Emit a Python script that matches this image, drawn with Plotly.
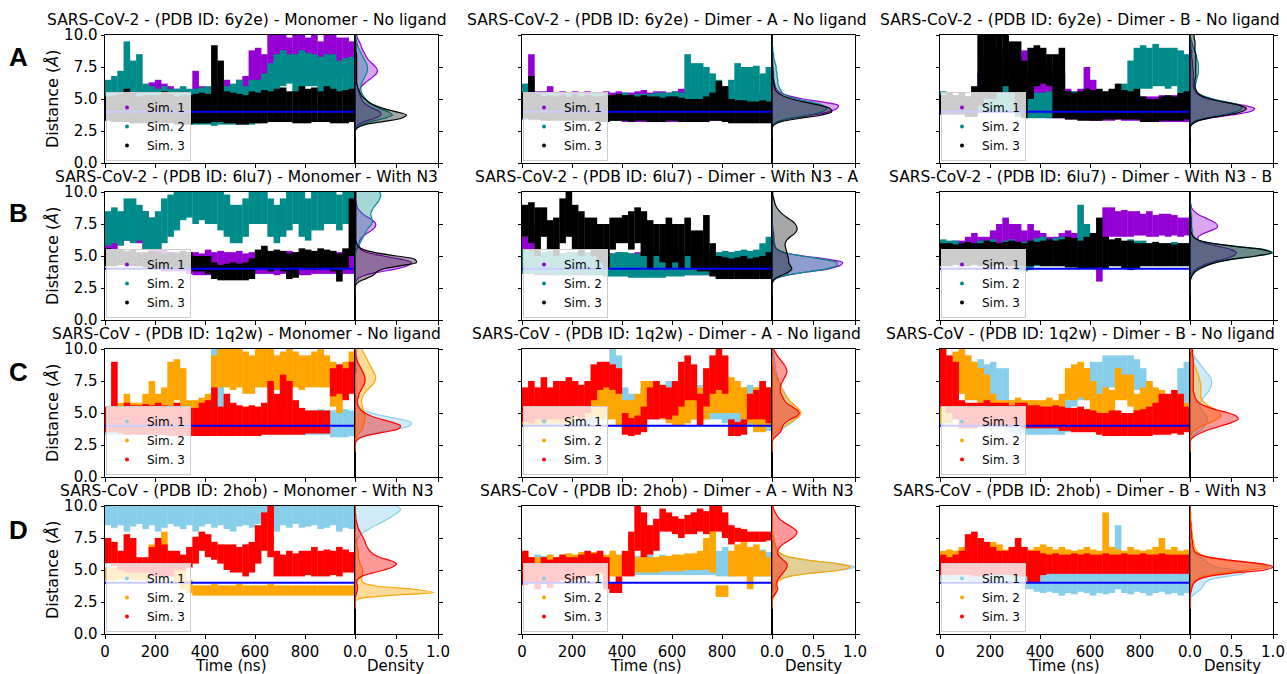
import plotly.graph_objects as go

W, H = 1287, 674

# ---------------- data ----------------
time_ns = [12.5, 37.5, 62.5, 87.5, 112.5, 137.5, 162.5, 187.5, 212.5, 237.5,
           262.5, 287.5, 312.5, 337.5, 362.5, 387.5, 412.5, 437.5, 462.5, 487.5,
           512.5, 537.5, 562.5, 587.5, 612.5, 637.5, 662.5, 687.5, 712.5, 737.5,
           762.5, 787.5, 812.5, 837.5, 862.5, 887.5, 912.5, 937.5, 962.5, 987.5]
time_range = [0, 1000]
threshold = 4.0
density_grid = [2.0, 2.25, 2.5, 2.75, 3.0, 3.25, 3.5, 3.75, 4.0, 4.25, 4.5, 4.75, 5.0, 5.25, 5.5,
                5.75, 6.0, 6.25, 6.5, 6.75, 7.0, 7.25, 7.5, 7.75, 8.0, 8.25, 8.5, 8.75, 9.0, 9.25,
                9.5, 9.75, 10.0]
sim_names = ["Sim. 1", "Sim. 2", "Sim. 3"]
titles = [
    "SARS-CoV-2 - (PDB ID: 6y2e) - Monomer - No ligand",
    "SARS-CoV-2 - (PDB ID: 6y2e) - Dimer - A - No ligand",
    "SARS-CoV-2 - (PDB ID: 6y2e) - Dimer - B - No ligand",
    "SARS-CoV-2 - (PDB ID: 6lu7) - Monomer - With N3",
    "SARS-CoV-2 - (PDB ID: 6lu7) - Dimer - With N3 - A",
    "SARS-CoV-2 - (PDB ID: 6lu7) - Dimer - With N3 - B",
    "SARS-CoV - (PDB ID: 1q2w) - Monomer - No ligand",
    "SARS-CoV - (PDB ID: 1q2w) - Dimer - A - No ligand",
    "SARS-CoV - (PDB ID: 1q2w) - Dimer - B - No ligand",
    "SARS-CoV - (PDB ID: 2hob) - Monomer - With N3",
    "SARS-CoV - (PDB ID: 2hob) - Dimer - A - With N3",
    "SARS-CoV - (PDB ID: 2hob) - Dimer - B - With N3",
]
row_letters = ["A", "B", "C", "D"]
x_ticks = [0, 200, 400, 600, 800]
y_ticks = [0, 2.5, 5, 7.5, 10]
y_ticktext = ["0.0", "2.5", "5.0", "7.5", "10.0"]
d_ticks = [0, 0.5, 1.0]
d_ticktext = ["0.0", "0.5", "1.0"]

# ---- Row A, col 1 ----
a1_s1_lo = [3.6,3.6,3.6,3.6,3.6,3.6,3.7,3.7,3.7,3.7,3.7,3.6,3.6,3.6,3.6,3.6,3.6,3.6,3.7,3.6,3.5,3.5,3.5,4.0,4.0,4.5,6.5,6.5,6.8,6.5,6.3,6.5,6.5,6.8,6.5,6.8,7.0,6.8,7.0,7.0]
a1_s1_hi = [5.2,5.3,5.5,5.6,5.6,5.5,5.8,6.3,6.5,6.2,6.0,5.8,5.7,5.6,7.2,6.0,5.8,6.0,6.3,6.5,6.0,6.5,6.8,8.8,9.0,8.5,10.0,10.0,10.0,9.8,10.0,10.0,9.8,10.0,9.5,10.0,10.0,9.8,9.8,9.5]
a1_s2_lo = [3.8,3.7,3.6,3.5,3.5,3.6,3.5,3.5,3.4,3.4,3.3,3.3,3.2,3.2,3.0,3.0,3.0,2.9,3.0,3.0,3.0,3.0,3.0,3.0,3.1,3.5,4.0,5.5,6.0,6.2,5.5,5.8,6.0,6.0,5.5,5.8,5.5,5.5,5.5,3.2]
a1_s2_hi = [6.5,6.8,7.2,9.5,8.0,8.5,6.2,6.0,5.8,6.0,5.8,5.8,6.0,5.8,5.8,5.9,6.0,5.5,6.0,6.0,6.2,6.5,6.0,6.5,6.5,7.0,7.8,8.5,8.8,8.5,8.5,8.8,8.6,8.5,8.3,8.5,8.5,8.0,8.2,8.3]
a1_s3_lo = [3.3,3.2,3.2,3.2,3.1,3.1,3.1,3.1,3.1,3.1,3.1,3.0,3.0,3.0,3.1,3.1,3.1,3.2,3.2,3.1,3.1,3.0,3.0,3.1,3.1,3.1,3.2,3.2,3.2,3.2,3.1,3.1,3.1,3.2,3.2,3.2,3.1,3.1,3.1,3.2]
a1_s3_hi = [5.2,5.3,5.4,5.8,5.5,5.2,5.3,5.3,5.3,5.6,5.4,5.2,5.3,5.3,5.4,5.5,5.4,9.2,8.0,5.6,5.5,5.4,5.3,5.6,5.5,5.7,5.6,5.8,5.9,5.6,5.6,6.0,5.8,5.9,5.6,6.0,5.8,5.6,5.7,5.8]
a1_s1_den = [0,0,0,0.01,0.04,0.12,0.24,0.31,0.3,0.22,0.15,0.1,0.08,0.06,0.05,0.06,0.08,0.12,0.17,0.22,0.26,0.27,0.25,0.21,0.17,0.14,0.12,0.1,0.08,0.07,0.05,0.03,0.02]
a1_s2_den = [0,0,0,0.02,0.08,0.2,0.36,0.45,0.4,0.3,0.22,0.16,0.13,0.1,0.08,0.07,0.07,0.08,0.1,0.12,0.14,0.15,0.15,0.14,0.12,0.1,0.08,0.06,0.04,0.03,0.02,0.01,0.01]
a1_s3_den = [0,0,0,0.03,0.12,0.35,0.56,0.62,0.5,0.35,0.24,0.17,0.12,0.08,0.06,0.04,0.03,0.02,0.02,0.02,0.02,0.02,0.02,0.02,0.02,0.02,0.02,0.01,0.01,0.01,0,0,0]

# ---- Row A, col 2 ----
a2_s1_lo = [3.4,3.4,3.4,3.4,3.4,3.4,3.4,3.4,3.4,3.4,3.4,3.3,3.3,3.3,3.3,3.3,3.2,3.2,3.2,3.2,3.2,3.2,3.2,3.2,3.2,3.2,3.4,3.4,3.4,3.4,3.3,3.3,3.3,3.3,3.3,3.3,3.3,3.3,3.3,3.3]
a2_s1_hi = [6.0,8.5,5.6,5.6,6.0,5.5,5.6,5.5,5.6,5.5,5.6,5.5,5.5,5.6,5.5,5.6,5.5,5.5,5.6,5.7,5.5,5.6,5.6,5.5,5.6,5.8,5.6,5.5,5.5,5.6,5.5,5.6,5.5,5.5,5.4,5.5,5.4,5.5,5.4,5.5]
a2_s2_lo = [3.4,3.4,3.4,3.4,3.4,3.4,3.4,3.4,3.4,3.4,3.4,3.3,3.3,3.3,3.3,3.3,3.3,3.3,3.4,3.4,3.3,3.3,3.3,3.4,3.3,3.3,4.0,4.2,4.2,4.3,4.0,3.8,3.8,3.8,4.0,4.0,4.0,4.0,4.0,4.0]
a2_s2_hi = [6.2,5.8,5.5,5.4,5.5,5.4,5.3,5.5,5.4,5.5,5.3,5.5,5.4,5.4,5.3,5.4,5.5,5.3,5.4,5.4,5.4,5.5,5.5,5.5,5.6,5.5,8.5,7.8,7.8,7.5,7.0,6.5,6.0,6.5,7.8,7.5,7.5,7.6,7.0,7.5]
a2_s3_lo = [3.5,3.4,3.4,3.3,3.3,3.3,3.3,3.3,3.3,3.3,3.3,3.3,3.2,3.2,3.3,3.3,3.3,3.2,3.3,3.3,3.2,3.2,3.2,3.3,3.3,3.2,3.2,3.2,3.2,3.2,3.3,3.3,3.2,3.1,3.1,3.1,3.1,3.1,3.1,3.1]
a2_s3_hi = [5.5,6.8,5.4,5.2,5.3,5.2,5.3,5.2,5.4,5.2,5.3,5.2,5.2,5.3,5.3,5.4,5.3,5.3,5.2,5.3,5.2,5.2,5.1,5.2,5.2,5.1,5.0,5.0,5.0,5.2,5.5,6.4,6.0,5.0,4.9,4.9,4.8,4.8,4.9,4.8]
a2_s1_den = [0,0,0,0,0.02,0.08,0.25,0.5,0.68,0.78,0.8,0.62,0.38,0.2,0.1,0.06,0.04,0.03,0.02,0.02,0.02,0.01,0.01,0.01,0.01,0.01,0.01,0,0,0,0,0,0]
a2_s2_den = [0,0,0,0,0.02,0.08,0.22,0.45,0.6,0.66,0.62,0.48,0.3,0.18,0.12,0.1,0.08,0.07,0.07,0.06,0.06,0.05,0.05,0.04,0.03,0.02,0.02,0.01,0.01,0,0,0,0]
a2_s3_den = [0,0,0,0,0.03,0.12,0.35,0.6,0.72,0.7,0.58,0.4,0.24,0.13,0.07,0.04,0.03,0.02,0.02,0.01,0.01,0.01,0.01,0,0,0,0,0,0,0,0,0,0]

# ---- Row A, col 3 ----
a3_s1_lo = [3.8,3.8,3.8,3.8,3.8,3.8,4.0,4.5,5.0,5.0,5.0,4.5,4.0,3.8,3.6,3.6,3.6,3.5,3.5,3.5,3.4,3.4,3.4,3.4,3.3,3.3,3.3,3.3,3.4,3.3,3.3,3.3,3.3,3.3,3.2,3.2,3.2,3.2,3.2,3.2]
a3_s1_hi = [5.0,5.0,5.0,5.0,5.2,5.5,7.0,8.5,8.8,9.0,8.5,8.0,7.5,8.8,7.5,6.5,6.5,7.5,7.8,7.0,5.8,5.6,5.8,7.5,6.5,5.5,5.5,5.6,5.5,5.5,5.5,5.4,5.2,5.2,5.2,5.3,5.2,5.3,5.4,5.4]
a3_s2_lo = [4.0,4.0,4.0,4.0,4.0,4.0,4.0,4.0,4.0,4.0,4.0,4.0,3.6,3.6,3.5,3.5,3.5,3.5,3.6,3.6,3.6,3.5,3.5,3.5,3.5,3.5,3.6,3.6,3.6,3.8,4.5,5.5,5.8,5.8,6.0,6.0,5.8,6.0,5.5,5.0]
a3_s2_hi = [5.6,5.4,5.3,5.3,5.2,5.2,5.3,5.3,5.5,5.6,7.0,6.8,5.8,5.6,5.5,5.5,5.5,5.6,5.6,5.5,5.6,5.6,5.5,5.5,5.7,5.6,5.6,5.7,6.0,6.2,8.0,9.0,9.2,9.0,9.3,9.0,9.0,9.0,8.8,8.5]
a3_s3_lo = [3.8,3.8,3.8,3.8,3.6,3.6,4.5,5.0,5.0,5.5,6.0,5.5,4.0,3.5,5.0,6.0,6.2,6.0,3.5,3.5,3.4,3.4,3.3,3.3,3.3,3.3,3.4,3.4,3.4,3.4,3.4,3.4,3.2,3.2,3.2,3.3,3.3,3.3,3.3,3.4]
a3_s3_hi = [5.3,5.5,5.3,5.5,5.2,6.0,10.0,10.0,10.0,10.0,10.0,9.5,9.5,8.0,9.0,9.2,9.0,8.5,8.5,9.0,5.6,5.5,5.6,5.8,5.7,5.8,5.6,5.8,6.2,5.7,5.6,5.8,5.2,5.0,5.0,5.2,5.3,5.2,5.5,5.6]
a3_s1_den = [0,0,0,0,0.02,0.08,0.24,0.5,0.72,0.78,0.65,0.42,0.22,0.12,0.07,0.05,0.04,0.04,0.04,0.04,0.04,0.04,0.03,0.03,0.03,0.02,0.02,0.02,0.01,0.01,0,0,0]
a3_s2_den = [0,0,0,0,0.01,0.05,0.18,0.38,0.55,0.62,0.6,0.45,0.28,0.16,0.09,0.06,0.06,0.07,0.08,0.09,0.1,0.1,0.1,0.1,0.09,0.08,0.07,0.06,0.04,0.03,0.02,0.01,0]
a3_s3_den = [0,0,0,0,0.02,0.08,0.22,0.45,0.62,0.68,0.6,0.42,0.25,0.14,0.09,0.07,0.06,0.06,0.06,0.07,0.07,0.07,0.07,0.07,0.07,0.07,0.07,0.06,0.06,0.06,0.06,0.05,0.05]

# ---- Row B, col 1 ----
b1_s1_lo = [4.5,5.5,6.0,6.2,6.2,6.0,5.5,5.0,4.0,3.8,3.8,3.8,3.8,3.6,3.5,3.5,3.5,3.5,3.5,3.5,3.6,3.6,3.6,3.6,3.6,3.6,3.6,3.5,3.6,3.6,3.6,3.5,3.5,3.6,3.6,3.6,3.6,3.6,3.6,3.6]
b1_s1_hi = [7.5,8.0,8.3,8.5,8.5,8.5,8.5,8.0,6.5,5.5,5.3,5.3,5.2,5.3,5.3,5.2,5.5,5.3,5.4,5.3,5.3,5.4,5.2,5.3,5.3,5.5,5.2,5.3,5.2,5.4,5.3,5.3,5.2,5.3,5.3,5.3,5.4,5.3,5.5,5.6]
b1_s2_lo = [5.8,6.0,5.8,6.2,6.0,6.2,5.5,5.0,5.5,6.0,6.5,7.0,7.8,8.0,7.5,7.8,7.5,7.5,7.0,6.5,6.0,6.0,6.5,7.5,7.5,7.5,6.5,6.0,6.5,7.0,7.5,6.5,6.2,7.0,7.0,7.5,7.5,7.0,7.5,7.5]
b1_s2_hi = [8.5,8.8,8.5,9.5,9.5,9.0,8.5,8.0,8.5,9.5,9.8,10.0,10.0,10.0,10.0,10.0,10.0,10.0,10.0,9.8,9.0,9.0,9.5,10.0,10.0,10.0,9.5,9.0,9.5,10.0,10.0,10.0,9.5,10.0,10.0,10.0,10.0,9.8,10.0,10.0]
b1_s3_lo = [4.2,4.2,4.3,4.2,4.2,4.2,4.1,4.1,4.1,4.1,4.1,4.0,4.0,4.0,3.8,3.8,3.6,3.2,3.1,3.1,3.1,3.1,3.1,3.2,4.0,4.0,3.8,4.0,3.8,3.2,3.3,4.0,4.0,3.9,4.0,4.0,3.8,3.0,4.0,5.0]
b1_s3_hi = [5.6,5.5,5.5,5.4,5.5,5.3,5.3,5.4,5.3,5.2,5.3,5.2,5.4,5.3,5.0,5.0,5.0,4.5,4.3,4.4,4.5,4.4,4.5,4.8,5.5,5.8,5.4,5.5,5.4,5.2,5.3,5.6,5.5,5.4,5.6,5.5,5.4,5.2,5.6,9.5]
b1_s1_den = [0,0,0,0,0.01,0.04,0.12,0.3,0.5,0.64,0.68,0.55,0.34,0.16,0.07,0.05,0.05,0.06,0.09,0.14,0.2,0.24,0.25,0.22,0.16,0.1,0.06,0.03,0.02,0.01,0,0,0]
b1_s2_den = [0,0,0,0,0,0,0,0,0,0,0,0,0,0.01,0.02,0.04,0.06,0.08,0.1,0.12,0.14,0.17,0.2,0.21,0.2,0.19,0.2,0.22,0.25,0.28,0.3,0.31,0.3]
b1_s3_den = [0,0,0,0.01,0.05,0.14,0.22,0.26,0.35,0.55,0.74,0.72,0.5,0.26,0.1,0.04,0.02,0.01,0.01,0.01,0.01,0.01,0.01,0.01,0.01,0.01,0.01,0.01,0.01,0.01,0.01,0.01,0.01]

# ---- Row B, col 2 ----
b2_s1_lo = [3.8,4.0,3.5,3.5,3.5,3.5,3.5,3.5,3.5,3.5,3.5,3.5,3.5,3.5,3.5,3.5,3.5,3.5,3.5,3.5,3.5,3.5,3.5,3.5,3.5,3.5,3.5,3.5,3.5,3.5,3.5,3.5,3.5,3.5,3.5,3.5,3.5,3.5,3.5,3.5]
b2_s1_hi = [6.5,7.5,5.2,5.2,5.3,5.2,5.2,5.3,5.2,5.3,5.2,5.2,5.3,5.2,5.2,5.3,5.2,5.2,5.3,5.2,5.2,5.3,5.2,5.2,5.3,5.2,5.2,5.3,5.2,5.2,5.3,5.2,5.2,5.3,5.2,5.2,5.3,5.2,5.5,5.8]
b2_s2_lo = [3.6,3.6,3.6,3.6,3.6,3.5,3.5,3.5,3.6,3.6,3.5,3.5,3.5,3.4,3.4,3.4,3.4,3.3,3.3,3.3,3.3,3.3,3.3,3.4,3.4,3.4,3.5,3.5,3.5,3.5,3.6,3.6,3.6,3.6,3.6,3.6,3.6,3.6,3.6,3.6]
b2_s2_hi = [5.5,5.4,5.3,5.3,5.4,5.3,5.2,5.3,5.3,5.2,5.3,5.2,5.3,5.4,5.2,5.3,5.3,5.2,5.2,5.3,5.2,5.2,5.3,5.3,5.2,5.3,5.3,5.4,5.4,5.3,5.4,5.3,5.4,5.3,5.4,5.5,5.4,5.5,6.0,6.5]
b2_s3_lo = [6.5,6.0,5.0,6.5,5.5,5.0,6.0,6.5,5.5,5.0,5.5,5.0,4.5,4.0,5.5,6.0,6.0,5.5,6.0,5.0,4.0,5.0,4.5,4.0,4.5,4.0,5.0,4.0,3.8,3.8,3.4,3.2,3.2,3.2,3.2,3.2,3.2,3.2,3.2,3.2]
b2_s3_hi = [9.0,9.2,8.8,8.8,7.8,8.0,9.5,10.0,9.0,8.5,8.0,8.0,7.5,7.5,8.0,8.0,8.2,8.5,8.8,8.5,7.8,7.5,7.5,8.0,7.5,7.5,8.0,7.0,7.0,8.2,6.0,5.0,4.9,4.8,4.9,5.0,4.8,4.9,5.0,5.3]
b2_s1_den = [0,0,0,0,0.01,0.05,0.18,0.42,0.68,0.82,0.85,0.66,0.38,0.16,0.06,0.03,0.02,0.02,0.02,0.02,0.01,0.01,0,0,0,0,0,0,0,0,0,0,0]
b2_s2_den = [0,0,0,0,0.01,0.05,0.18,0.42,0.66,0.78,0.78,0.6,0.36,0.16,0.07,0.04,0.03,0.02,0.02,0.01,0.01,0,0,0,0,0,0,0,0,0,0,0,0]
b2_s3_den = [0,0,0,0,0.01,0.04,0.12,0.2,0.24,0.22,0.2,0.2,0.19,0.18,0.17,0.16,0.16,0.18,0.22,0.27,0.3,0.3,0.28,0.24,0.18,0.13,0.09,0.06,0.04,0.03,0.02,0.01,0.01]

# ---- Row B, col 3 ----
b3_s1_lo = [4.5,4.5,4.5,4.5,4.5,4.5,4.5,4.5,4.5,4.5,4.5,4.5,4.5,4.5,4.5,4.5,4.5,4.5,4.5,4.5,4.5,4.5,4.5,4.5,4.5,3.0,6.2,6.5,6.5,6.5,6.5,6.6,6.6,6.5,6.5,6.6,6.5,6.6,6.5,6.6]
b3_s1_hi = [6.0,6.0,6.2,6.2,6.5,6.8,6.5,6.5,7.0,7.5,8.0,7.5,7.5,7.0,7.5,7.0,6.8,6.5,6.5,6.8,7.0,6.8,6.5,6.5,6.8,6.5,8.8,8.8,8.5,8.6,8.5,8.5,8.3,8.5,8.2,8.3,8.3,8.2,8.0,8.0]
b3_s2_lo = [4.3,4.3,4.4,4.3,4.3,4.3,4.4,4.3,4.3,4.3,4.3,4.2,3.8,3.8,3.9,4.2,4.3,4.3,4.3,4.3,4.3,4.2,4.2,4.3,4.3,4.3,4.4,4.4,4.3,4.4,4.4,4.3,4.4,4.4,4.4,4.3,4.4,4.4,4.4,4.4]
b3_s2_hi = [6.3,6.2,6.2,6.0,6.1,6.0,6.2,6.2,6.3,6.0,6.2,6.3,6.0,6.1,6.2,6.4,6.5,6.3,6.4,6.5,6.3,6.4,9.0,7.5,6.5,6.4,6.3,6.2,6.2,6.1,6.3,6.2,6.2,6.0,6.1,6.0,6.0,6.1,6.0,6.0]
b3_s3_lo = [4.2,4.2,4.3,4.2,4.2,4.3,4.2,4.2,4.2,4.3,4.2,4.2,4.2,4.2,4.2,4.3,4.2,4.2,4.2,4.2,4.1,4.1,4.0,4.0,4.0,4.1,4.0,4.2,4.2,4.0,3.9,4.0,4.2,4.2,4.2,4.2,4.2,4.2,4.2,4.2]
b3_s3_hi = [6.0,6.0,5.9,6.0,6.1,6.0,6.0,6.2,6.1,6.0,6.1,6.2,6.1,6.0,6.2,6.1,6.2,6.3,6.2,6.3,6.5,6.4,6.2,6.5,6.8,8.0,6.5,6.3,6.4,6.2,6.2,6.0,6.0,6.0,6.1,6.0,6.0,5.9,6.0,6.0]
b3_s1_den = [0,0,0,0,0,0.01,0.02,0.04,0.08,0.15,0.26,0.4,0.52,0.56,0.5,0.34,0.18,0.1,0.1,0.16,0.26,0.33,0.32,0.26,0.18,0.1,0.05,0.02,0.01,0,0,0,0]
b3_s2_den = [0,0,0,0,0,0.01,0.02,0.05,0.1,0.18,0.3,0.5,0.8,1.0,0.9,0.55,0.25,0.1,0.05,0.03,0.03,0.02,0.02,0.02,0.02,0.02,0.01,0.01,0.01,0,0,0,0]
b3_s3_den = [0,0,0,0,0,0.01,0.03,0.06,0.12,0.2,0.32,0.52,0.8,0.98,0.88,0.55,0.25,0.1,0.04,0.02,0.01,0.01,0.01,0.01,0.01,0,0,0,0,0,0,0,0]

# ---- Row C, col 1 ----
c1_s1_lo = [3.3,3.3,3.3,3.3,3.3,3.3,3.3,3.3,3.3,3.3,3.3,3.3,3.3,3.3,3.3,3.3,3.3,3.5,3.5,3.3,3.3,3.3,3.3,3.3,3.3,3.3,3.3,3.3,3.3,3.3,3.3,3.3,3.3,3.3,3.3,3.3,3.1,3.1,3.1,3.2]
c1_s1_hi = [5.2,5.2,5.3,5.2,5.2,5.3,5.2,5.2,5.3,5.2,5.2,5.3,5.2,5.2,5.3,5.2,5.2,10.0,10.0,5.3,5.2,5.2,5.3,5.2,5.2,5.3,5.2,5.2,5.3,5.2,5.2,5.3,5.2,5.2,5.3,5.2,5.2,5.4,5.3,5.2]
c1_s2_lo = [3.8,3.8,3.8,3.8,3.8,3.8,4.0,4.0,4.0,4.5,5.5,6.0,5.0,4.0,4.0,4.0,4.0,6.5,7.0,7.0,6.8,7.0,6.5,6.5,7.0,7.0,7.0,6.8,7.0,7.0,7.0,6.8,7.0,7.0,7.0,7.0,5.5,5.0,6.5,7.0]
c1_s2_hi = [5.5,5.6,5.8,6.5,5.8,5.8,6.5,7.5,6.5,7.0,9.0,9.2,8.5,6.0,6.0,6.2,6.5,9.5,10.0,10.0,10.0,10.0,9.8,9.5,10.0,10.0,10.0,9.5,9.8,10.0,9.8,9.5,9.5,9.8,10.0,9.5,9.0,8.0,9.0,9.8]
c1_s3_lo = [3.5,3.5,3.4,3.3,3.3,3.3,3.3,3.3,3.3,3.3,3.2,3.2,3.2,3.2,3.2,3.2,3.2,3.2,3.2,3.2,3.2,3.2,3.2,3.2,3.2,3.3,3.3,3.3,3.3,3.3,3.3,3.3,3.4,3.4,3.4,3.4,6.3,6.5,6.0,6.5]
c1_s3_hi = [5.5,9.0,5.5,5.8,5.6,5.6,5.7,5.6,5.8,5.6,5.5,5.8,5.5,5.4,5.4,5.8,6.0,7.0,5.5,6.5,5.8,5.6,5.5,5.6,5.5,5.8,7.5,6.5,8.0,7.5,6.0,5.4,5.2,5.2,5.2,5.2,8.5,8.8,8.5,9.0]
c1_s1_den = [0,0,0,0.01,0.04,0.12,0.3,0.52,0.66,0.68,0.55,0.36,0.2,0.1,0.05,0.03,0.02,0.02,0.01,0.01,0.01,0.01,0.01,0.01,0.01,0.02,0.02,0.02,0.02,0.02,0.02,0.02,0.02]
c1_s2_den = [0,0,0,0,0.01,0.03,0.06,0.09,0.1,0.11,0.12,0.12,0.11,0.1,0.09,0.08,0.08,0.09,0.11,0.14,0.18,0.22,0.24,0.25,0.24,0.22,0.2,0.18,0.16,0.14,0.12,0.1,0.08]
c1_s3_den = [0,0,0,0.01,0.05,0.15,0.35,0.52,0.55,0.46,0.32,0.2,0.12,0.07,0.04,0.03,0.03,0.04,0.05,0.07,0.09,0.11,0.12,0.12,0.11,0.09,0.07,0.05,0.03,0.02,0.01,0.01,0]

# ---- Row C, col 2 ----
c2_s1_lo = [4.0,4.0,4.0,4.0,4.0,4.0,4.0,4.2,4.2,4.0,4.0,4.2,4.5,4.5,5.0,4.5,3.5,3.5,3.6,4.0,4.5,4.5,4.5,4.5,4.5,4.5,4.5,4.5,4.5,4.5,4.5,4.5,4.2,4.2,4.0,4.0,4.0,3.8,3.6,3.6]
c2_s1_hi = [6.0,6.2,6.0,6.5,6.5,6.5,6.5,7.0,7.0,6.8,6.5,7.5,8.0,9.0,10.0,9.5,7.0,6.5,6.5,7.0,7.5,7.5,7.2,7.5,7.2,7.5,7.0,7.0,7.2,7.0,7.2,7.0,7.0,6.8,6.5,7.0,7.2,7.0,6.5,6.0]
c2_s2_lo = [4.0,4.0,4.0,4.0,4.2,4.2,4.2,4.2,4.5,4.5,4.5,4.8,4.5,4.5,4.5,4.0,3.8,3.6,3.8,4.5,5.0,4.8,4.5,4.2,4.0,4.0,4.2,4.5,4.5,4.5,5.0,5.0,5.0,5.0,5.0,4.5,4.2,3.5,3.5,4.0]
c2_s2_hi = [6.0,6.2,6.3,6.5,6.5,6.8,6.8,7.0,7.2,7.0,6.8,7.8,7.5,7.5,7.2,6.5,6.0,6.0,6.5,7.5,7.5,7.5,7.0,6.8,6.5,6.5,7.0,7.0,7.0,7.2,8.0,8.0,8.0,7.8,7.5,7.0,6.5,7.0,7.5,7.0]
c2_s3_lo = [4.3,4.2,4.5,4.3,4.5,4.5,4.5,4.5,4.8,4.5,5.0,6.0,6.8,7.0,6.8,6.5,3.3,3.2,3.3,3.5,4.5,4.5,4.6,4.5,4.8,5.5,6.0,6.0,4.0,5.5,6.5,6.8,6.5,3.2,3.2,3.3,4.5,4.5,4.5,4.2]
c2_s3_hi = [7.0,7.5,7.0,7.8,7.0,7.5,7.5,7.8,7.5,7.2,7.5,8.8,9.0,9.0,8.8,8.5,5.0,4.6,4.8,5.5,7.0,7.5,7.2,7.0,7.5,9.0,9.5,8.8,6.5,8.5,9.5,10.0,9.5,4.5,4.3,4.5,6.5,6.8,7.5,7.0]
c2_s1_den = [0,0,0,0,0.01,0.03,0.07,0.12,0.18,0.24,0.28,0.3,0.3,0.28,0.25,0.22,0.2,0.18,0.16,0.14,0.12,0.1,0.08,0.07,0.06,0.05,0.04,0.04,0.03,0.03,0.02,0.02,0.02]
c2_s2_den = [0,0,0,0,0,0.01,0.04,0.09,0.15,0.22,0.28,0.33,0.35,0.33,0.29,0.25,0.21,0.18,0.15,0.13,0.11,0.1,0.08,0.06,0.04,0.03,0.02,0.01,0.01,0,0,0,0]
c2_s3_den = [0,0,0,0,0.02,0.06,0.1,0.12,0.13,0.16,0.22,0.3,0.33,0.3,0.24,0.18,0.15,0.13,0.11,0.1,0.1,0.11,0.13,0.15,0.17,0.18,0.17,0.15,0.12,0.09,0.06,0.04,0.02]

# ---- Row C, col 3 ----
c3_s1_lo = [4.0,4.5,6.0,6.5,6.5,6.0,6.5,6.0,6.0,6.0,5.5,3.5,3.3,3.3,3.3,3.3,3.3,3.3,3.3,3.3,3.5,5.5,6.0,6.0,6.0,6.5,6.8,7.0,7.0,7.0,7.0,6.8,6.0,5.0,4.0,3.5,3.5,3.5,3.5,3.5]
c3_s1_hi = [6.0,7.5,9.0,9.5,9.5,9.0,9.2,8.8,9.0,8.5,8.5,6.0,5.5,5.5,5.5,5.3,5.3,5.3,5.4,5.5,6.0,8.5,8.5,8.5,9.0,9.0,9.5,9.5,9.5,9.5,9.5,9.2,8.5,7.5,6.5,5.5,5.5,5.8,8.5,9.0]
c3_s2_lo = [4.2,4.2,6.5,6.5,6.0,6.0,5.5,5.0,4.5,4.2,4.2,4.2,4.2,4.2,4.2,4.2,4.0,4.0,4.0,4.5,6.0,6.0,6.2,6.0,5.0,4.5,4.5,4.5,6.0,6.0,5.5,4.5,5.0,5.5,5.5,5.0,4.0,4.0,4.0,4.0]
c3_s2_hi = [6.0,8.0,9.8,10.0,9.5,9.0,8.5,8.0,6.5,6.0,6.0,6.0,6.2,6.0,6.0,6.0,6.0,6.2,6.0,6.5,8.5,8.8,9.0,8.5,7.5,6.5,7.0,6.8,8.5,8.0,8.0,6.5,7.0,7.5,7.0,6.8,6.0,6.0,6.2,5.8]
c3_s3_lo = [5.5,5.0,4.5,3.8,3.8,3.8,4.0,4.0,4.0,4.0,4.0,4.0,4.0,3.8,3.8,3.8,3.8,3.8,3.8,3.6,3.6,3.5,3.5,3.5,3.5,3.3,3.2,3.2,3.2,3.2,3.2,3.2,3.2,3.2,3.3,3.3,3.3,3.4,3.3,3.5]
c3_s3_hi = [10.0,9.5,9.0,6.0,5.8,5.8,5.8,6.0,5.8,5.8,5.8,5.6,5.8,5.8,5.6,5.6,5.5,5.5,5.6,5.5,5.4,5.4,5.5,5.3,5.2,5.0,5.0,5.2,5.2,5.0,5.0,5.2,5.3,5.5,5.8,6.5,6.5,6.8,6.5,5.5]
c3_s1_den = [0,0,0,0,0.01,0.04,0.1,0.15,0.18,0.2,0.21,0.2,0.17,0.14,0.12,0.12,0.14,0.17,0.2,0.23,0.25,0.26,0.26,0.25,0.22,0.19,0.16,0.13,0.1,0.07,0.05,0.03,0.02]
c3_s2_den = [0,0,0,0,0,0.01,0.03,0.08,0.15,0.24,0.32,0.37,0.36,0.3,0.24,0.18,0.15,0.13,0.13,0.13,0.13,0.13,0.12,0.11,0.1,0.08,0.07,0.05,0.04,0.03,0.02,0.02,0.01]
c3_s3_den = [0,0,0,0,0.02,0.07,0.15,0.25,0.38,0.5,0.58,0.56,0.46,0.32,0.2,0.12,0.08,0.06,0.05,0.04,0.04,0.04,0.04,0.04,0.04,0.04,0.04,0.04,0.04,0.04,0.03,0.03,0.03]

# ---- Row D, col 1 ----
d1_s1_lo = [8.5,8.3,8.5,8.0,8.4,8.6,8.2,8.5,8.0,8.3,8.6,8.4,8.2,8.5,8.0,8.4,8.6,8.3,8.5,8.2,8.0,8.4,8.5,8.3,8.6,8.2,8.4,8.0,8.5,8.3,8.6,8.3,8.4,8.5,8.2,8.3,8.5,8.0,8.3,8.2]
d1_s1_hi = [10.0,10.0,10.0,10.0,10.0,10.0,10.0,10.0,10.0,10.0,10.0,10.0,10.0,10.0,10.0,10.0,10.0,10.0,10.0,10.0,10.0,10.0,10.0,10.0,10.0,10.0,10.0,10.0,10.0,10.0,10.0,10.0,10.0,10.0,10.0,10.0,10.0,10.0,10.0,10.0]
d1_s2_lo = [4.2,4.2,4.3,4.3,4.2,4.2,4.2,4.5,4.5,5.0,4.5,4.0,3.5,3.2,3.0,3.0,3.0,3.0,3.0,3.0,3.0,3.0,3.0,3.0,3.0,3.0,3.0,3.0,3.0,3.0,3.0,3.0,3.0,3.0,3.0,3.0,3.0,3.0,3.0,3.0]
d1_s2_hi = [5.2,5.2,5.2,5.3,5.3,5.3,5.5,7.0,7.5,8.0,6.5,5.2,5.0,4.2,3.8,3.8,3.8,3.9,3.8,3.8,3.8,3.9,3.8,3.8,3.8,3.8,3.9,3.8,3.8,3.8,3.8,3.8,3.8,3.8,3.8,3.8,3.8,3.8,3.8,3.8]
d1_s3_lo = [5.5,5.3,5.0,4.8,4.8,4.8,4.8,4.5,4.5,4.5,4.5,5.0,5.0,5.2,5.5,6.5,6.0,5.8,5.5,5.0,4.8,4.8,4.5,4.8,5.5,6.5,6.0,4.5,4.5,4.5,4.5,4.5,4.6,4.5,4.5,4.5,4.6,4.5,4.8,4.8]
d1_s3_hi = [7.5,7.2,6.5,7.8,7.5,6.0,6.0,6.8,7.5,7.0,6.5,6.5,6.2,6.8,7.6,8.0,7.8,7.2,7.0,7.0,7.0,6.8,7.0,7.2,8.5,9.5,10.0,6.5,6.2,6.5,6.3,6.5,6.5,6.8,6.5,6.6,6.5,6.8,6.6,6.4]
d1_s1_den = [0,0,0,0,0,0,0,0,0,0,0,0,0,0,0,0,0,0,0,0,0.01,0.02,0.04,0.07,0.12,0.18,0.25,0.33,0.4,0.46,0.52,0.55,0.5]
d1_s2_den = [0,0,0,0.05,0.4,0.95,0.7,0.25,0.1,0.08,0.08,0.09,0.09,0.08,0.06,0.05,0.04,0.04,0.04,0.03,0.02,0.02,0.01,0.01,0,0,0,0,0,0,0,0,0]
d1_s3_den = [0,0,0,0,0.01,0.02,0.03,0.03,0.02,0.03,0.08,0.2,0.35,0.46,0.5,0.42,0.3,0.22,0.18,0.15,0.13,0.12,0.1,0.08,0.06,0.04,0.03,0.02,0.01,0.01,0,0,0]

# ---- Row D, col 2 ----
d2_s1_lo = [4.6,4.6,4.6,4.6,4.6,4.6,4.6,4.6,4.6,4.6,4.6,4.6,4.6,4.6,4.6,4.6,4.6,4.6,4.6,4.6,4.6,4.6,4.6,4.6,4.6,4.6,4.6,4.6,4.6,4.6,4.6,4.5,4.5,4.5,4.6,4.6,4.5,4.5,4.5,4.5]
d2_s1_hi = [6.2,6.0,6.2,6.1,6.2,6.0,6.2,6.3,6.2,6.1,6.2,6.0,6.2,6.1,6.3,6.2,6.0,6.2,6.1,6.2,6.2,6.0,6.2,6.1,6.2,6.0,6.2,6.1,6.2,6.2,6.5,6.5,6.8,6.5,6.2,6.2,6.5,6.5,6.6,6.4]
d2_s2_lo = [4.5,4.5,4.5,4.5,4.5,4.5,4.6,4.5,4.6,4.6,4.6,4.6,4.6,4.5,4.5,4.5,4.7,4.8,4.8,4.8,4.8,4.8,4.9,4.9,4.9,4.9,5.0,5.0,5.0,5.0,4.8,2.9,2.9,4.5,4.5,4.5,3.5,4.5,4.5,4.5]
d2_s2_hi = [6.5,6.0,6.0,6.0,6.2,6.0,6.2,6.3,6.2,6.4,6.2,6.4,6.2,6.2,6.5,6.2,6.0,6.0,6.0,6.1,6.0,6.0,6.1,6.1,6.2,6.2,6.3,6.3,6.5,7.5,8.0,3.8,3.8,6.5,7.0,7.2,6.8,7.0,6.5,6.0]
d2_s3_lo = [3.8,4.0,3.5,4.0,3.6,4.0,4.2,4.2,4.2,4.3,4.5,4.5,4.8,3.5,3.2,3.2,4.5,4.5,6.5,6.0,6.2,6.5,8.0,8.0,7.8,7.5,7.8,7.8,8.0,7.8,8.0,8.0,7.5,7.0,7.2,7.2,7.2,7.2,7.2,7.3]
d2_s3_hi = [6.5,6.0,5.5,6.0,5.8,6.0,6.2,6.0,6.0,6.2,6.5,6.3,6.5,6.0,4.0,4.5,6.5,8.0,10.0,9.5,8.5,9.0,9.8,9.5,9.2,9.0,9.3,9.5,9.8,9.6,10.0,10.0,9.5,8.5,8.3,8.2,8.0,8.0,8.0,8.0]
d2_s1_den = [0,0,0,0,0,0.01,0.02,0.03,0.05,0.1,0.2,0.45,0.85,1.0,0.8,0.45,0.2,0.1,0.06,0.04,0.03,0.02,0.01,0.01,0,0,0,0,0,0,0,0,0]
d2_s2_den = [0,0,0,0.01,0.03,0.05,0.05,0.04,0.05,0.1,0.22,0.48,0.82,0.95,0.78,0.45,0.22,0.12,0.07,0.05,0.04,0.03,0.02,0.01,0.01,0,0,0,0,0,0,0,0]
d2_s3_den = [0,0,0,0,0.02,0.05,0.07,0.06,0.06,0.07,0.1,0.13,0.16,0.18,0.18,0.14,0.1,0.07,0.07,0.09,0.13,0.19,0.25,0.29,0.3,0.26,0.2,0.14,0.09,0.06,0.04,0.02,0.01]

# ---- Row D, col 3 ----
d3_s1_lo = [4.2,4.2,4.2,4.2,4.1,4.1,4.1,4.1,4.0,4.0,4.0,4.0,4.0,3.5,3.5,3.3,3.2,3.3,3.2,3.0,3.2,3.1,3.3,3.2,3.0,3.2,3.1,3.2,3.5,3.2,3.1,3.3,3.2,3.0,3.2,3.3,3.1,3.2,3.0,3.2]
d3_s1_hi = [5.8,5.8,5.8,5.7,5.8,5.8,5.7,5.8,5.8,5.7,5.8,5.8,5.7,5.6,5.5,5.5,5.5,5.4,5.5,5.5,5.4,5.5,5.5,5.4,5.5,5.5,5.4,5.5,8.5,5.5,5.4,5.5,5.5,5.4,5.5,5.5,5.4,5.5,5.5,5.4]
d3_s2_lo = [4.8,4.8,4.8,4.8,4.8,4.8,4.8,4.8,4.8,4.8,4.8,4.8,4.8,4.8,4.8,4.8,4.8,4.8,4.8,4.8,4.8,4.8,4.8,4.8,4.8,4.8,4.8,4.8,4.8,4.8,4.8,4.8,4.8,4.8,4.8,4.8,4.8,4.8,4.8,4.8]
d3_s2_hi = [6.5,6.6,6.5,6.8,6.6,6.5,6.8,6.6,7.2,7.0,6.6,6.8,7.0,6.8,6.6,6.8,7.0,6.8,6.6,6.8,6.6,6.5,6.6,6.8,6.6,6.5,9.5,6.8,6.6,6.5,6.8,6.6,6.5,6.6,6.8,7.5,6.6,6.8,6.5,6.6]
d3_s3_lo = [4.6,4.6,4.6,4.6,4.6,4.5,4.5,4.6,4.6,4.6,4.6,4.6,4.5,4.5,4.0,4.0,4.6,4.7,4.7,4.7,4.7,4.7,4.7,4.7,4.7,4.7,4.7,4.7,4.7,4.7,4.7,4.7,4.7,4.7,4.7,4.7,4.7,4.7,4.7,4.7]
d3_s3_hi = [6.2,6.0,6.2,6.5,7.8,8.0,7.5,7.2,6.8,6.5,6.5,6.8,7.5,6.8,6.5,6.5,6.3,6.2,6.3,6.2,6.2,6.3,6.2,6.3,6.2,6.2,6.3,6.2,6.2,6.3,6.2,6.2,6.3,6.2,6.2,6.3,6.2,6.2,6.2,6.2]
d3_s1_den = [0,0,0,0,0.03,0.08,0.13,0.16,0.18,0.25,0.45,0.66,0.55,0.3,0.22,0.18,0.12,0.07,0.04,0.03,0.02,0.01,0.01,0.01,0.01,0,0,0,0,0,0,0,0]
d3_s2_den = [0,0,0,0,0,0,0.01,0.02,0.04,0.08,0.16,0.35,0.7,0.95,0.8,0.45,0.22,0.12,0.08,0.06,0.05,0.04,0.03,0.03,0.02,0.02,0.02,0.01,0.01,0.01,0.01,0,0]
d3_s3_den = [0,0,0,0,0,0.01,0.02,0.03,0.05,0.1,0.22,0.5,0.9,1.0,0.85,0.5,0.22,0.1,0.05,0.04,0.03,0.03,0.02,0.02,0.02,0.01,0.01,0.01,0,0,0,0,0]

# ---------------- styling ----------------
colors_cov2 = ["#9400d3", "#008b8b", "#000000"]
fills_cov2 = ["rgba(148,0,211,0.35)", "rgba(0,139,139,0.35)", "rgba(0,0,0,0.35)"]
colors_cov = ["#87ceeb", "#ffa500", "#ff0000"]
fills_cov = ["rgba(135,206,235,0.4)", "rgba(255,165,0,0.4)", "rgba(255,0,0,0.4)"]

panels = [
    [(a1_s1_lo, a1_s1_hi, a1_s1_den), (a1_s2_lo, a1_s2_hi, a1_s2_den), (a1_s3_lo, a1_s3_hi, a1_s3_den)],
    [(a2_s1_lo, a2_s1_hi, a2_s1_den), (a2_s2_lo, a2_s2_hi, a2_s2_den), (a2_s3_lo, a2_s3_hi, a2_s3_den)],
    [(a3_s1_lo, a3_s1_hi, a3_s1_den), (a3_s2_lo, a3_s2_hi, a3_s2_den), (a3_s3_lo, a3_s3_hi, a3_s3_den)],
    [(b1_s1_lo, b1_s1_hi, b1_s1_den), (b1_s2_lo, b1_s2_hi, b1_s2_den), (b1_s3_lo, b1_s3_hi, b1_s3_den)],
    [(b2_s1_lo, b2_s1_hi, b2_s1_den), (b2_s2_lo, b2_s2_hi, b2_s2_den), (b2_s3_lo, b2_s3_hi, b2_s3_den)],
    [(b3_s1_lo, b3_s1_hi, b3_s1_den), (b3_s2_lo, b3_s2_hi, b3_s2_den), (b3_s3_lo, b3_s3_hi, b3_s3_den)],
    [(c1_s1_lo, c1_s1_hi, c1_s1_den), (c1_s2_lo, c1_s2_hi, c1_s2_den), (c1_s3_lo, c1_s3_hi, c1_s3_den)],
    [(c2_s1_lo, c2_s1_hi, c2_s1_den), (c2_s2_lo, c2_s2_hi, c2_s2_den), (c2_s3_lo, c2_s3_hi, c2_s3_den)],
    [(c3_s1_lo, c3_s1_hi, c3_s1_den), (c3_s2_lo, c3_s2_hi, c3_s2_den), (c3_s3_lo, c3_s3_hi, c3_s3_den)],
    [(d1_s1_lo, d1_s1_hi, d1_s1_den), (d1_s2_lo, d1_s2_hi, d1_s2_den), (d1_s3_lo, d1_s3_hi, d1_s3_den)],
    [(d2_s1_lo, d2_s1_hi, d2_s1_den), (d2_s2_lo, d2_s2_hi, d2_s2_den), (d2_s3_lo, d2_s3_hi, d2_s3_den)],
    [(d3_s1_lo, d3_s1_hi, d3_s1_den), (d3_s2_lo, d3_s2_hi, d3_s2_den), (d3_s3_lo, d3_s3_hi, d3_s3_den)],
]

# layout geometry in pixels
col_px = [(105, 355, 438), (522, 772, 855), (940, 1190, 1273)]
row_px = [(35, 163), (192, 320), (349, 477), (506, 634)]
title_cx = [247, 667, 1080]
title_cy = [20, 177, 334, 491]
letter_cy = [57, 213, 372, 530]
FONT = "DejaVu Sans"


def fx(p):
    return p / W


def fy(p):
    return 1 - p / H


fig = go.Figure()
layout = dict(
    template="none",
    width=W, height=H, autosize=False,
    margin=dict(l=0, r=0, t=0, b=0, autoexpand=False),
    paper_bgcolor="white", plot_bgcolor="white",
    font=dict(family=FONT, size=15, color="black"),
    showlegend=True,
)
annotations = []

axis_common = dict(showgrid=False, zeroline=False, showline=True, linecolor="black",
                   linewidth=1, mirror=True, ticks="outside", ticklen=3.5, tickcolor="black",
                   tickwidth=1, automargin=False,
                   tickfont=dict(family=FONT, size=15, color="black"))

for p in range(12):
    r, c = divmod(p, 3)
    xl, xm, xr = col_px[c]
    yt, yb = row_px[r]
    si = 2 * p + 1
    di = 2 * p + 2
    sx = "x" if si == 1 else f"x{si}"
    sy = "y" if si == 1 else f"y{si}"
    dx = f"x{di}"
    dy = f"y{di}"
    lname = "legend" if p == 0 else f"legend{p + 1}"
    cols = colors_cov2 if r < 2 else colors_cov
    fills = fills_cov2 if r < 2 else fills_cov

    layout["xaxis" if si == 1 else f"xaxis{si}"] = dict(
        axis_common, domain=[fx(xl), fx(xm)], range=time_range, anchor=sy,
        tickvals=x_ticks, showticklabels=(r == 3))
    layout["yaxis" if si == 1 else f"yaxis{si}"] = dict(
        axis_common, domain=[fy(yb), fy(yt)], range=[0, 10], anchor=sx,
        tickvals=y_ticks, ticktext=y_ticktext, showticklabels=(c == 0))
    layout[f"xaxis{di}"] = dict(
        axis_common, domain=[fx(xm), fx(xr)], range=[0, 1.0], anchor=dy,
        tickvals=d_ticks, ticktext=d_ticktext, showticklabels=(r == 3))
    layout[f"yaxis{di}"] = dict(
        axis_common, domain=[fy(yb), fy(yt)], range=[0, 10], anchor=dx, side="right",
        tickvals=y_ticks, showticklabels=False)

    # trajectory clouds (vertical spans per time window)
    for k, (lo, hi, den) in enumerate(panels[p]):
        xs, ys = [], []
        for t, a, b in zip(time_ns, lo, hi):
            xs += [t, t, None]
            ys += [a, b, None]
        fig.add_trace(go.Scatter(x=xs, y=ys, mode="lines", xaxis=sx, yaxis=sy,
                                 line=dict(color=cols[k], width=6.6), showlegend=False,
                                 hoverinfo="skip"))
    # threshold line
    fig.add_trace(go.Scatter(x=time_range, y=[threshold, threshold], mode="lines",
                             xaxis=sx, yaxis=sy, line=dict(color="#0000ff", width=2),
                             showlegend=False, hoverinfo="skip"))
    # legend entries
    for k in range(3):
        fig.add_trace(go.Scatter(x=[None], y=[None], mode="markers", xaxis=sx, yaxis=sy,
                                 marker=dict(color=cols[k], size=4), name=sim_names[k],
                                 legend=lname, showlegend=True))
    # densities
    for k, (lo, hi, den) in enumerate(panels[p]):
        fig.add_trace(go.Scatter(x=den, y=density_grid, mode="lines", xaxis=dx, yaxis=dy,
                                 line=dict(color=cols[k], width=1.2, shape="spline", smoothing=0.8),
                                 fill="tozerox", fillcolor=fills[k], showlegend=False,
                                 hoverinfo="skip"))

    layout[lname] = dict(
        x=fx(xl + 1), y=fy(yb - 2), xanchor="left", yanchor="bottom",
        bgcolor="rgba(255,255,255,0.8)", bordercolor="#cccccc", borderwidth=1,
        font=dict(family=FONT, size=12, color="black"), itemwidth=30,
        tracegroupgap=0)

    annotations.append(dict(text=titles[p], x=fx(title_cx[c]), y=fy(title_cy[r]),
                            xref="paper", yref="paper", showarrow=False,
                            xanchor="center", yanchor="middle",
                            font=dict(family=FONT, size=15.5, color="black")))

for r in range(4):
    annotations.append(dict(text="<b>" + row_letters[r] + "</b>", x=fx(18), y=fy(letter_cy[r]),
                            xref="paper", yref="paper", showarrow=False,
                            xanchor="center", yanchor="middle",
                            font=dict(family="Liberation Sans", size=26, color="black")))
    yt, yb = row_px[r]
    annotations.append(dict(text="Distance (<i>Å</i>)", x=fx(52), y=fy((yt + yb) / 2),
                            xref="paper", yref="paper", showarrow=False, textangle=-90,
                            xanchor="center", yanchor="middle",
                            font=dict(family=FONT, size=16, color="black")))

time_label_cx = [231, 646, 1064]
dens_label_cx = [395, 813, 1232]
for c in range(3):
    annotations.append(dict(text="Time (ns)", x=fx(time_label_cx[c]), y=fy(666),
                            xref="paper", yref="paper", showarrow=False,
                            xanchor="center", yanchor="middle",
                            font=dict(family=FONT, size=15, color="black")))
    annotations.append(dict(text="Density", x=fx(dens_label_cx[c]), y=fy(666),
                            xref="paper", yref="paper", showarrow=False,
                            xanchor="center", yanchor="middle",
                            font=dict(family=FONT, size=15, color="black")))

layout["annotations"] = annotations
fig.update_layout(**layout)
fig.write_html("out.html")
